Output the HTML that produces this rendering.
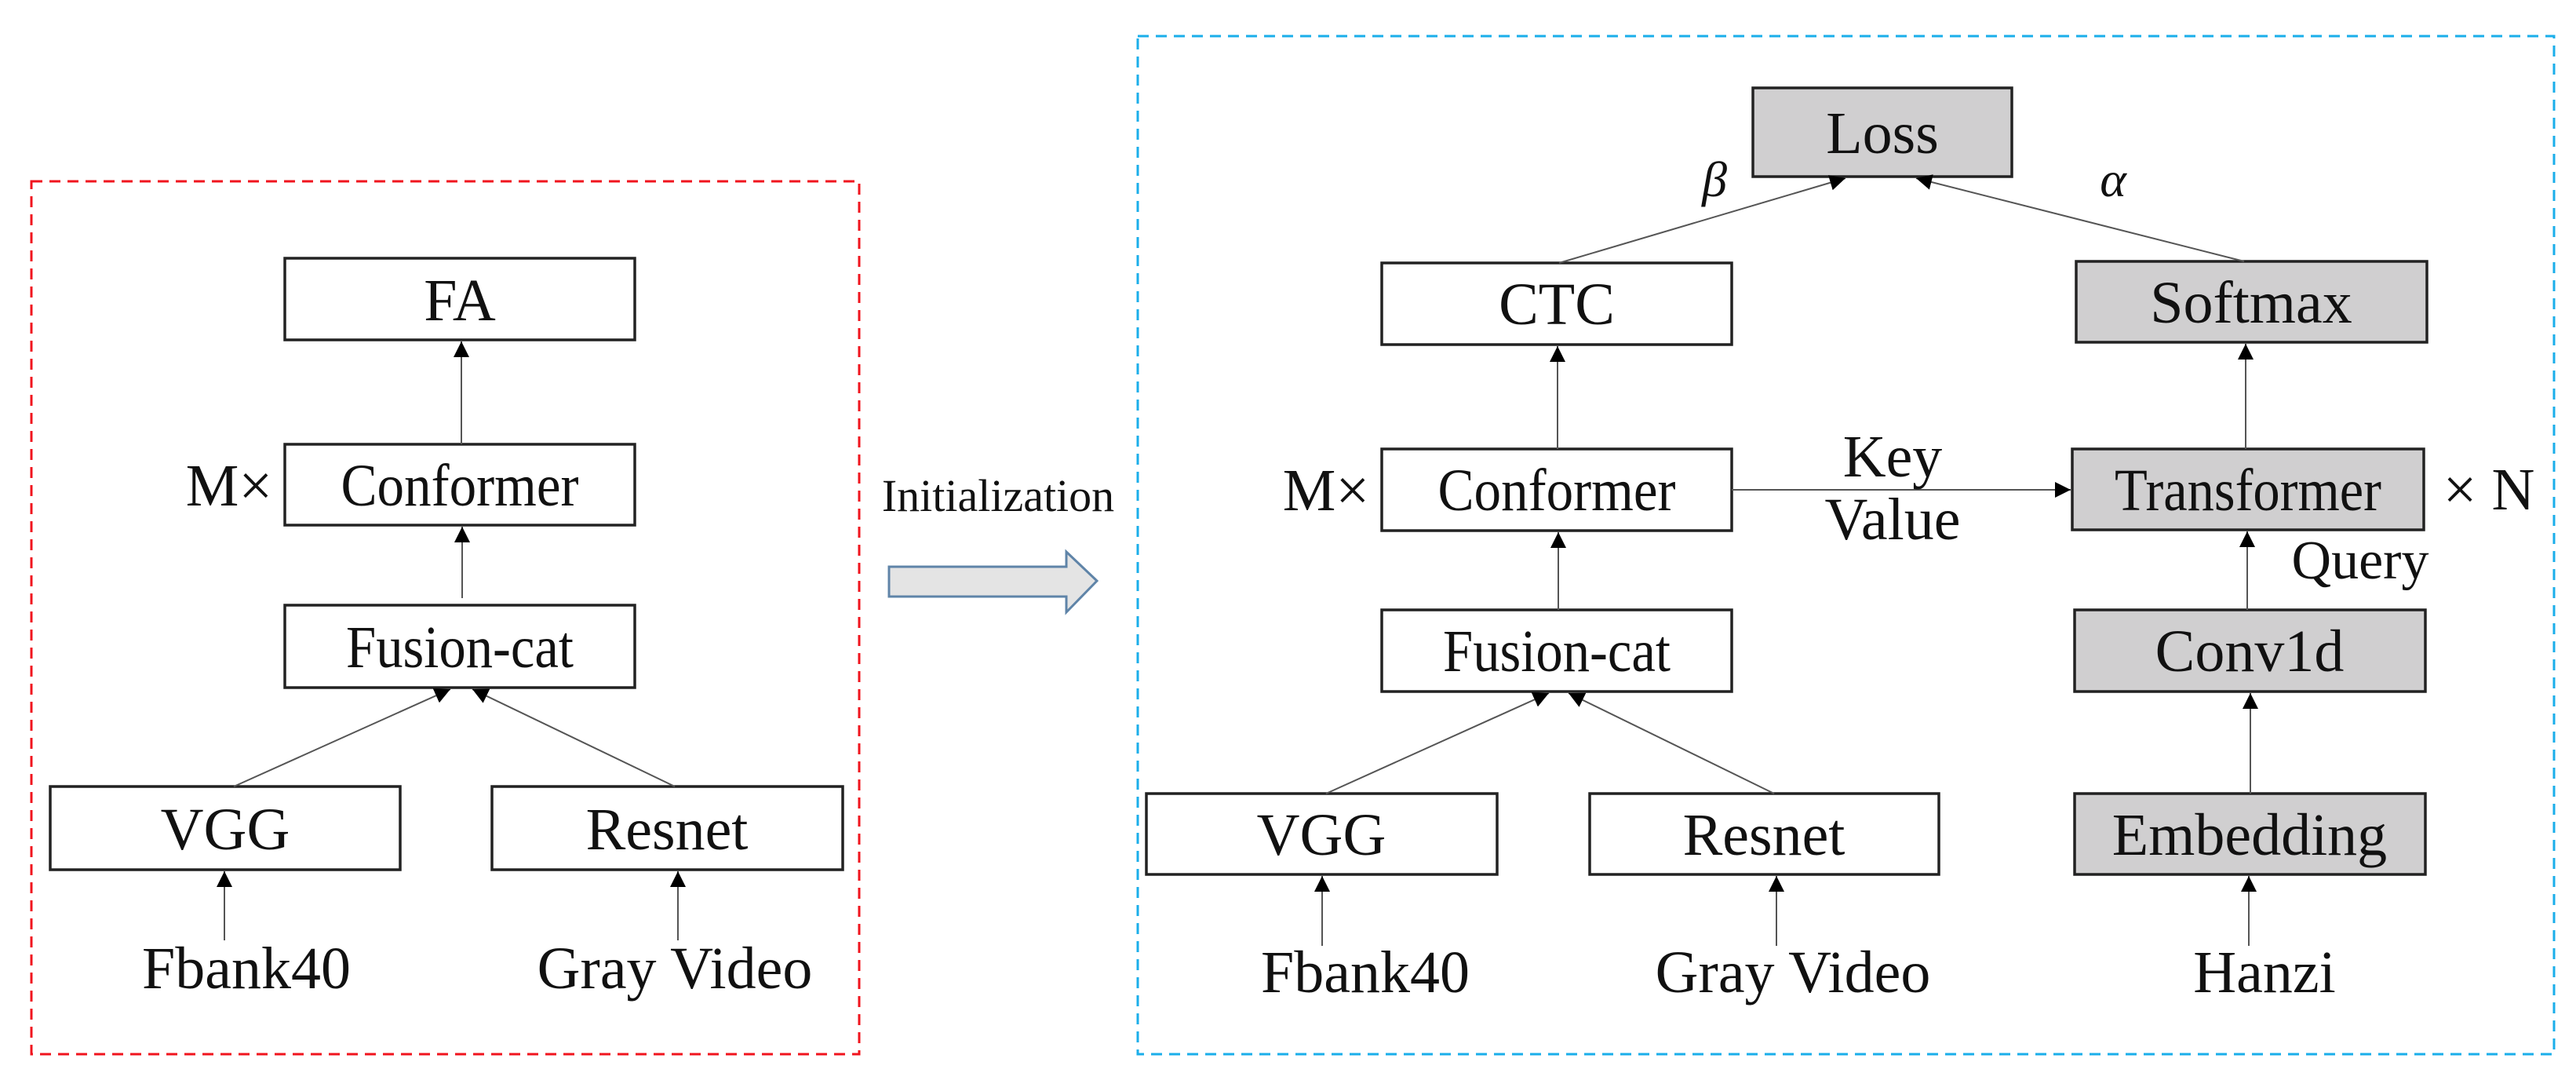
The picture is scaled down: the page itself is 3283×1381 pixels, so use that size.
<!DOCTYPE html>
<html><head><meta charset="utf-8"><style>html,body{margin:0;padding:0;background:#fff}svg{display:block}svg text{font-family:"Liberation Serif","Times New Roman",Times,serif}</style></head><body>
<svg width="3283" height="1381" viewBox="0 0 3283 1381" xmlns="http://www.w3.org/2000/svg" font-size="76">
<defs>
<marker id="b" viewBox="0 0 10 10" refX="10" refY="5" markerWidth="20" markerHeight="20" markerUnits="userSpaceOnUse" orient="auto"><path d="M0,0 L10,5 L0,10 z" fill="#000"/></marker>
</defs>
<rect x="40" y="231" width="1055" height="1112" fill="none" stroke="#f0141e" stroke-width="3" stroke-dasharray="14,9"/>
<rect x="1450" y="46" width="1805" height="1297" fill="none" stroke="#1aaeea" stroke-width="3" stroke-dasharray="14,9"/>

<g stroke="#222" stroke-width="3.5" fill="#fff">
<rect x="363" y="329" width="446" height="104"/>
<rect x="363" y="566" width="446" height="103"/>
<rect x="363" y="771" width="446" height="105"/>
<rect x="64" y="1002" width="446" height="106"/>
<rect x="627" y="1002" width="447" height="106"/>
<rect x="1761" y="335" width="446" height="104"/>
<rect x="1761" y="572" width="446" height="104"/>
<rect x="1761" y="777" width="446" height="104"/>
<rect x="1461" y="1011" width="447" height="103"/>
<rect x="2026" y="1011" width="445" height="103"/>
</g>
<g stroke="#222" stroke-width="3.5" fill="#d0cfd0">
<rect x="2234" y="112" width="330" height="113"/>
<rect x="2646" y="333" width="447" height="103"/>
<rect x="2641" y="572" width="448" height="103"/>
<rect x="2644" y="777" width="447" height="104"/>
<rect x="2644" y="1011" width="447" height="103"/>
</g>

<g stroke="#555" stroke-width="2" fill="none" marker-end="url(#b)">
<line x1="588" y1="566" x2="588" y2="435"/>
<line x1="589" y1="762" x2="589" y2="671"/>
<line x1="298" y1="1002" x2="574" y2="878"/>
<line x1="860" y1="1002" x2="602" y2="878"/>
<line x1="286" y1="1198" x2="286" y2="1110"/>
<line x1="864" y1="1198" x2="864" y2="1110"/>
<line x1="1987" y1="335" x2="2352" y2="227"/>
<line x1="2860" y1="333" x2="2442" y2="227"/>
<line x1="1985" y1="572" x2="1985" y2="441"/>
<line x1="1986" y1="777" x2="1986" y2="678"/>
<line x1="1690" y1="1011" x2="1974" y2="883"/>
<line x1="2261" y1="1011" x2="1999" y2="883"/>
<line x1="2862" y1="572" x2="2862" y2="438"/>
<line x1="2864" y1="777" x2="2864" y2="677"/>
<line x1="2868" y1="1011" x2="2868" y2="883"/>
<line x1="1685" y1="1205" x2="1685" y2="1116"/>
<line x1="2264" y1="1205" x2="2264" y2="1116"/>
<line x1="2866" y1="1205" x2="2866" y2="1116"/>
<line x1="2207" y1="624" x2="2639" y2="624"/>
</g>

<path d="M1133,722 L1359,722 L1359,703 L1398,740 L1359,780 L1359,760 L1133,760 Z" fill="#e4e4e4" stroke="#5f84a8" stroke-width="3"/>

<g text-anchor="middle" fill="#111">
<text x="586" y="408">FA</text>
<text x="586" y="644" textLength="303" lengthAdjust="spacingAndGlyphs">Conformer</text>
<text x="586" y="850" textLength="290" lengthAdjust="spacingAndGlyphs">Fusion-cat</text>
<text x="287" y="1082">VGG</text>
<text x="850" y="1082">Resnet</text>
<text x="314" y="1259">Fbank40</text>
<text x="860" y="1259">Gray Video</text>
<text x="292" y="644">M×</text>
<text x="1272" y="651" font-size="58">Initialization</text>

<text x="2399" y="195">Loss</text>
<text x="1984" y="413">CTC</text>
<text x="2869" y="411">Softmax</text>
<text x="1984" y="650" textLength="303" lengthAdjust="spacingAndGlyphs">Conformer</text>
<text x="2865" y="650" textLength="340" lengthAdjust="spacingAndGlyphs">Transformer</text>
<text x="1984" y="855" textLength="290" lengthAdjust="spacingAndGlyphs">Fusion-cat</text>
<text x="2867" y="855">Conv1d</text>
<text x="1684" y="1089">VGG</text>
<text x="2248" y="1089">Resnet</text>
<text x="2867" y="1089">Embedding</text>
<text x="1740" y="1264">Fbank40</text>
<text x="2285" y="1264">Gray Video</text>
<text x="2886" y="1264">Hanzi</text>
<text x="1690" y="650">M×</text>
<text x="3172" y="649">× N</text>
<text x="2412" y="607">Key</text>
<text x="2412" y="687">Value</text>
<text x="3008" y="737" font-size="70">Query</text>
<text x="2185" y="250" font-style="italic" font-size="64">β</text>
<text x="2693" y="250" font-style="italic" font-size="64">α</text>
</g>
</svg>
</body></html>
